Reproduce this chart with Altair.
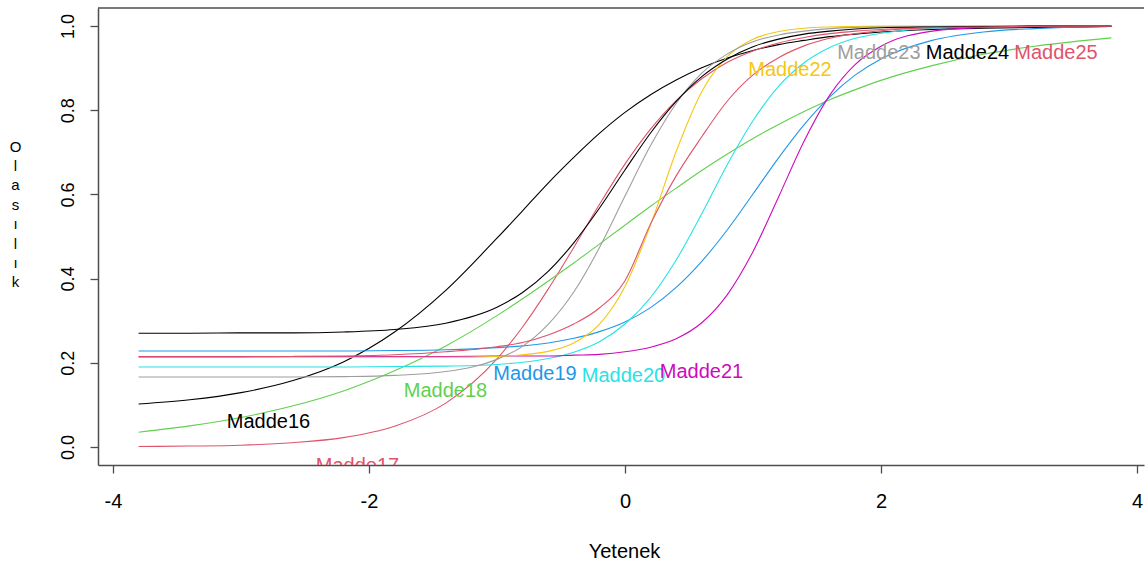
import altair as alt
import pandas as pd

# Items and their R default palette colours
items = ["Madde16", "Madde17", "Madde18", "Madde19", "Madde20",
         "Madde21", "Madde22", "Madde23", "Madde24", "Madde25"]
colors = ["#000000", "#DF536B", "#61D04F", "#2297E6", "#28E2E5",
          "#CD0BBC", "#F5C710", "#9E9E9E", "#000000", "#DF536B"]

theta = [-3.8, -3.4, -3.0, -2.6, -2.2, -1.8, -1.4, -1.0, -0.8, -0.6, -0.4, -0.2,
         0.0, 0.2, 0.4, 0.6, 0.8, 1.0, 1.2, 1.4, 1.6, 1.8, 2.0, 2.4, 2.8, 3.2, 3.6, 3.8]

madde16 = [0.102, 0.112, 0.129, 0.157, 0.202, 0.273, 0.372, 0.496, 0.561, 0.627, 0.688, 0.745,
           0.795, 0.837, 0.872, 0.901, 0.924, 0.942, 0.956, 0.966, 0.975, 0.981, 0.986, 0.992, 0.995, 0.997, 0.998, 0.999]
madde17 = [0.001, 0.002, 0.004, 0.010, 0.022, 0.049, 0.104, 0.209, 0.285, 0.375, 0.474, 0.576,
           0.672, 0.755, 0.823, 0.875, 0.914, 0.941, 0.960, 0.973, 0.982, 0.988, 0.992, 0.996, 0.998, 0.999, 1.000, 1.000]
madde18 = [0.035, 0.050, 0.070, 0.097, 0.133, 0.181, 0.240, 0.312, 0.352, 0.394, 0.437, 0.482,
           0.527, 0.572, 0.615, 0.657, 0.696, 0.733, 0.766, 0.797, 0.825, 0.849, 0.871, 0.906, 0.933, 0.952, 0.966, 0.972]
madde19 = [0.228, 0.228, 0.228, 0.228, 0.228, 0.229, 0.231, 0.236, 0.240, 0.247, 0.258, 0.274,
           0.297, 0.331, 0.379, 0.441, 0.516, 0.601, 0.687, 0.766, 0.832, 0.884, 0.922, 0.966, 0.986, 0.994, 0.998, 0.999]
madde20 = [0.190, 0.190, 0.190, 0.190, 0.190, 0.191, 0.192, 0.196, 0.201, 0.210, 0.225, 0.250,
           0.292, 0.355, 0.444, 0.554, 0.671, 0.775, 0.857, 0.913, 0.949, 0.971, 0.983, 0.995, 0.998, 1.000, 1.000, 1.000]
madde21 = [0.215, 0.215, 0.215, 0.215, 0.215, 0.215, 0.215, 0.216, 0.216, 0.216, 0.218, 0.220,
           0.226, 0.237, 0.257, 0.295, 0.362, 0.464, 0.594, 0.727, 0.836, 0.909, 0.952, 0.988, 0.997, 0.999, 1.000, 1.000]
madde22 = [0.213, 0.213, 0.213, 0.213, 0.213, 0.213, 0.213, 0.215, 0.219, 0.227, 0.247, 0.291,
           0.381, 0.528, 0.702, 0.844, 0.928, 0.969, 0.987, 0.995, 0.998, 0.999, 1.000, 1.000, 1.000, 1.000, 1.000, 1.000]
madde23 = [0.166, 0.166, 0.166, 0.166, 0.167, 0.170, 0.179, 0.208, 0.239, 0.291, 0.368, 0.473,
           0.596, 0.716, 0.816, 0.888, 0.934, 0.963, 0.979, 0.988, 0.994, 0.997, 0.998, 0.999, 1.000, 1.000, 1.000, 1.000]
madde24 = [0.270, 0.270, 0.271, 0.271, 0.273, 0.279, 0.294, 0.332, 0.367, 0.417, 0.485, 0.567,
           0.658, 0.746, 0.821, 0.880, 0.922, 0.951, 0.969, 0.981, 0.988, 0.993, 0.996, 0.998, 0.999, 1.000, 1.000, 1.000]
madde25 = [0.214, 0.214, 0.214, 0.215, 0.216, 0.219, 0.226, 0.238, 0.248, 0.266, 0.292, 0.330,
           0.395, 0.530, 0.644, 0.737, 0.822, 0.884, 0.925, 0.953, 0.971, 0.982, 0.989, 0.996, 0.998, 0.999, 1.000, 1.000]

series = [madde16, madde17, madde18, madde19, madde20,
          madde21, madde22, madde23, madde24, madde25]

# Label positions (centre of each item name)
label_x = [-2.785, -2.09, -1.402, -0.703, -0.012, 0.598, 1.289, 1.984, 2.676, 3.367]
label_y = [0.058, -0.045, 0.132, 0.173, 0.169, 0.179, 0.896, 0.935, 0.935, 0.935]

x_ticks = [-4, -2, 0, 2, 4]
y_ticks = [0.0, 0.2, 0.4, 0.6, 0.8, 1.0]
x_title = "Yetenek"
y_title = ["O", "l", "a", "s", "ı", "l", "ı", "k"]

rows = []
for i, (name, vals) in enumerate(zip(items, series)):
    for t, p in zip(theta, vals):
        rows.append({"item": name, "k": i, "theta": t, "p": p})
df = pd.DataFrame(rows)
lab = pd.DataFrame({"item": items, "x": label_x, "y": label_y})

FONT = "Liberation Sans"
AX = "#4d4d4d"
W, H = 1046, 457

xscale = alt.Scale(domain=[-4.117, 4.055], nice=False, zero=False)
yscale = alt.Scale(domain=[-0.043, 1.043], nice=False, zero=False)
cscale = alt.Scale(domain=items, range=colors)

x_axis = alt.Axis(
    values=x_ticks, labelExpr="'' + datum.value", grid=False,
    title=x_title, titleFont=FONT, titleFontSize=20, titleFontWeight="normal",
    titleColor="#000000", titleY=86, titleX=526, titleBaseline="middle", titleAlign="center",
    labelFont=FONT, labelFontSize=20, labelColor="#000000", labelPadding=18,
    labelBaseline="top", labelFlush=False, labelOverlap=False,
    tickSize=8, tickColor=AX, tickWidth=1.3, domainColor=AX, domainWidth=1.5,
)
y_axis = alt.Axis(
    values=y_ticks, format=".1f", grid=False,
    labelAngle=270, labelAlign="center", labelBaseline="bottom", labelPadding=13,
    labelFont=FONT, labelFontSize=18, labelColor="#000000", labelFlush=False, labelOverlap=False,
    title=y_title, titleAngle=0, titleX=-83, titleY=131, titleAlign="center",
    titleBaseline="top", titleFont=FONT, titleFontSize=15, titleFontWeight="normal",
    titleColor="#000000", titleLineHeight=19.4,
    tickSize=8, tickColor=AX, tickWidth=1.3, domainColor=AX, domainWidth=1.5,
)

lines = alt.Chart(df).mark_line(strokeWidth=1.1, interpolate="monotone", clip=True).encode(
    x=alt.X("theta:Q", scale=xscale, axis=x_axis),
    y=alt.Y("p:Q", scale=yscale, axis=y_axis),
    color=alt.Color("item:N", scale=cscale, legend=None),
    order=alt.Order("theta:Q"),
)

texts = alt.Chart(lab).mark_text(font=FONT, fontSize=20, clip=True, align="center",
                                 baseline="middle").encode(
    x=alt.X("x:Q", scale=xscale, axis=x_axis),
    y=alt.Y("y:Q", scale=yscale, axis=y_axis),
    text="item:N",
    color=alt.Color("item:N", scale=cscale, legend=None),
)

top_border = alt.Chart(pd.DataFrame({"b": [0]})).mark_rule(color=AX, strokeWidth=1.5).encode(
    x=alt.value(0), x2=alt.value(W), y=alt.value(0)
)

chart = alt.layer(lines, texts, top_border).properties(
    width=W, height=H,
    autosize=alt.AutoSizeParams(type="none"),
    padding={"left": 98, "top": 8, "right": 1, "bottom": 100},
    background="white",
).configure_view(stroke=None)

chart.save("out.html", embed_options={"renderer": "svg", "actions": False})
